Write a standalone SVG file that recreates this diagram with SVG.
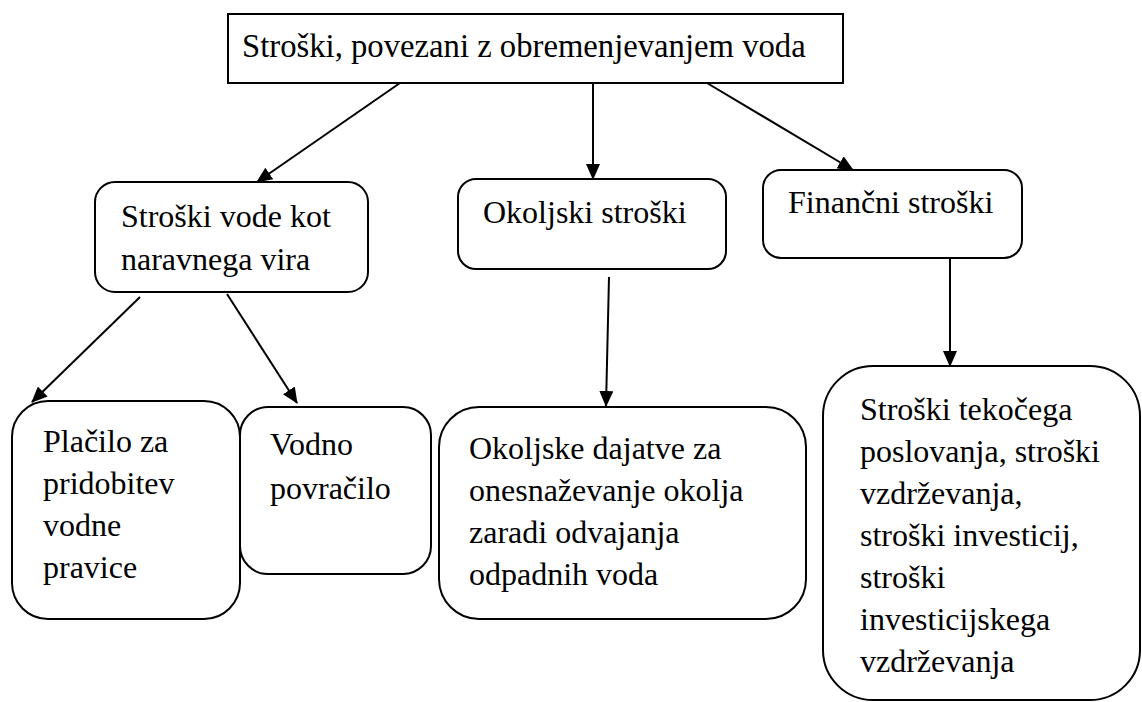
<svg xmlns="http://www.w3.org/2000/svg" width="1142" height="702" viewBox="0 0 1142 702">
<style>
.box{fill:#fff;stroke:#000;stroke-width:2}
.t{font-family:"Liberation Serif","Times New Roman",serif;font-size:32px;fill:#000}
.c{stroke:#000;stroke-width:2;fill:none;marker-end:url(#ah)}
</style>
<defs>
<marker id="ah" markerUnits="userSpaceOnUse" markerWidth="16" markerHeight="14" refX="15" refY="7" orient="auto" viewBox="0 0 16 14">
<path d="M0,0 L16,7 L0,14 z" fill="#000"/>
</marker>
</defs>
<rect width="1142" height="702" fill="#fff"/>
<g id="connectors">
<line class="c" x1="400" y1="83" x2="257" y2="182"/>
<line class="c" x1="593" y1="83" x2="593" y2="179"/>
<line class="c" x1="707" y1="83" x2="853" y2="170"/>
<line class="c" x1="140" y1="297" x2="32" y2="402"/>
<line class="c" x1="227" y1="294" x2="297" y2="403"/>
<line class="c" x1="609" y1="277" x2="606" y2="406"/>
<line class="c" x1="950" y1="258" x2="950" y2="366"/>
</g>
<g id="root">
<rect class="box" x="228" y="14" width="615" height="69"/>
<text class="t" x="242" y="57" style="font-size:32.7px">Stroški, povezani z obremenjevanjem voda</text>
</g>
<g id="naravni">
<rect class="box" x="95" y="182" width="273" height="110" rx="20"/>
<text class="t" x="121" y="227">Stroški vode kot</text>
<text class="t" x="121" y="270">naravnega vira</text>
</g>
<g id="okoljski">
<rect class="box" x="458" y="179" width="268" height="90" rx="18"/>
<text class="t" x="483" y="223">Okoljski stroški</text>
</g>
<g id="financni">
<rect class="box" x="763" y="170" width="259" height="88" rx="18"/>
<text class="t" x="788" y="213">Finančni stroški</text>
</g>
<g id="placilo">
<rect class="box" x="12" y="401" width="228" height="218" rx="36"/>
<text class="t" x="43" y="452">Plačilo za</text>
<text class="t" x="43" y="494">pridobitev</text>
<text class="t" x="43" y="536">vodne</text>
<text class="t" x="43" y="578">pravice</text>
</g>
<g id="vodno">
<rect class="box" x="240" y="407" width="191" height="167" rx="28"/>
<text class="t" x="270" y="455">Vodno</text>
<text class="t" x="270" y="499">povračilo</text>
</g>
<g id="dajatve">
<rect class="box" x="439" y="407" width="367" height="212" rx="40"/>
<text class="t" x="469" y="459">Okoljske dajatve za</text>
<text class="t" x="469" y="501">onesnaževanje okolja</text>
<text class="t" x="469" y="543">zaradi odvajanja</text>
<text class="t" x="469" y="585">odpadnih voda</text>
</g>
<g id="tekoci">
<rect class="box" x="823" y="366" width="317" height="334" rx="50"/>
<text class="t" x="860" y="420">Stroški tekočega</text>
<text class="t" x="860" y="462">poslovanja, stroški</text>
<text class="t" x="860" y="504">vzdrževanja,</text>
<text class="t" x="860" y="546">stroški investicij,</text>
<text class="t" x="860" y="588">stroški</text>
<text class="t" x="860" y="630">investicijskega</text>
<text class="t" x="860" y="672">vzdrževanja</text>
</g>
</svg>
